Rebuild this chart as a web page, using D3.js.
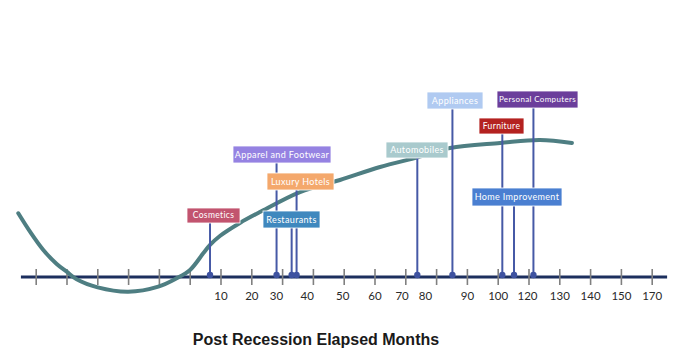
<!DOCTYPE html>
<html>
<head>
<meta charset="utf-8">
<script src="https://cdn.jsdelivr.net/npm/d3@7"></script>
<style>
  body { margin: 0; background: #fff; }
  .tick text { font-family: Lato, "Open Sans", sans-serif; }
</style>
</head>
<body>
<div class="chart"></div>
<script>
var svgWidth = 694;
var svgHeight = 364;

// positions along the axis are in tick steps (0 = first tick, 20 = last)
var tickSteps = d3.range(0, 21);
var tickLabels = ["10", "20", "30", "40", "50", "60", "70", "80", "90", "100", "120", "130", "140", "150", "170"];
var tickLabelSteps = [6, 7, 7.8, 8.8, 9.95, 11, 11.88, 12.64, 14, 15, 15.95, 17, 18, 19, 20];

// business cycle curve
var curveSteps = [-0.565, -0.185, 0.247, 0.682, 1.006, 1.331, 2.013, 3.006, 3.981, 4.578, 5.01, 5.44, 5.66, 5.98, 6.63, 7.28, 8.58, 9.88, 11.18, 12.43, 13.45, 15.08, 16.37, 17.41];
var curveValues = [45.5, 32.4, 19.3, 9.3, 3.8, -1.6, -7.4, -10.5, -6.9, -0.9, 5.0, 16.9, 22.9, 29.3, 38.6, 46.4, 60.7, 69.3, 78.6, 85.7, 92.1, 95.7, 97.9, 95.7];

// industries and where they sit on the axis
var industries = ["Cosmetics", "Apparel and Footwear", "Restaurants", "Luxury Hotels", "Automobiles", "Appliances", "Furniture", "Home Improvement", "Personal Computers"];
var industrySteps = [5.66, 7.82, 8.31, 8.47, 12.39, 13.53, 15.15, 15.53, 16.16];

// label boxes (layout only)
var boxes = {
  "Cosmetics":            { x: 187, y: 208, w: 53, h: 15, fill: "#c2546f", fs: 8.5 },
  "Apparel and Footwear": { x: 233, y: 146, w: 98, h: 17, fill: "#9582e2", fs: 9 },
  "Luxury Hotels":        { x: 267, y: 173, w: 67, h: 17, fill: "#f4a86c", fs: 9 },
  "Restaurants":          { x: 263, y: 211, w: 57, h: 17, fill: "#3f88be", fs: 9 },
  "Automobiles":          { x: 386, y: 142, w: 62, h: 16, fill: "#a9cacd", fs: 9 },
  "Appliances":           { x: 427, y: 92,  w: 56, h: 17, fill: "#b0caf1", fs: 9 },
  "Furniture":            { x: 479, y: 118, w: 45, h: 16, fill: "#b42220", fs: 8.5 },
  "Home Improvement":     { x: 472, y: 188, w: 90, h: 18, fill: "#4a7fd1", fs: 9 },
  "Personal Computers":   { x: 497, y: 91,  w: 81, h: 17, fill: "#6b3e9b", fs: 8 }
};

var axisY = 277;

var svg = d3.select(".chart")
  .append("svg")
  .attr("width", svgWidth)
  .attr("height", svgHeight);

var xScale = d3.scaleLinear().domain([0, 20]).range([35.7, 651.7]);
var yScale = d3.scaleLinear().domain([0, 100]).range([axisY, 137]);

// axis line
svg.append("line")
  .attr("x1", xScale(-0.48))
  .attr("x2", xScale(20.5))
  .attr("y1", axisY)
  .attr("y2", axisY)
  .attr("stroke", "#1c2f5e")
  .attr("stroke-width", 3);

// tick marks
var tickAxis = d3.axisBottom(xScale)
  .tickValues(tickSteps)
  .tickFormat("")
  .tickSizeOuter(0);

var tg = svg.append("g")
  .attr("transform", "translate(0," + axisY + ")")
  .call(tickAxis);
tg.select(".domain").remove();
tg.selectAll(".tick line")
  .attr("y1", -8)
  .attr("y2", 8)
  .attr("stroke", "#808080")
  .attr("stroke-width", 1.6);

// tick labels
var labelAxis = d3.axisBottom(xScale)
  .tickValues(tickLabelSteps)
  .tickFormat(function(d, i) { return tickLabels[i]; })
  .tickSize(0)
  .tickPadding(15);

var lg = svg.append("g")
  .attr("transform", "translate(0," + axisY + ")")
  .call(labelAxis);
lg.select(".domain").remove();
lg.selectAll(".tick text")
  .attr("font-size", 11.5)
  .attr("fill", "#2a2a2a");

// curve
var curveData = curveSteps.map(function(d, i) { return [d, curveValues[i]]; });
var line = d3.line()
  .x(function(d) { return xScale(d[0]); })
  .y(function(d) { return yScale(d[1]); })
  .curve(d3.curveCatmullRom.alpha(0.5));

svg.append("path")
  .datum(curveData)
  .attr("d", line)
  .attr("fill", "none")
  .attr("stroke", "#4e7e82")
  .attr("stroke-width", 4)
  .attr("stroke-linecap", "round");

// leader lines and dots
var markers = svg.append("g");
industries.forEach(function(name, i) {
  var b = boxes[name];
  markers.append("line")
    .attr("x1", xScale(industrySteps[i]))
    .attr("x2", xScale(industrySteps[i]))
    .attr("y1", b.y + b.h / 2)
    .attr("y2", axisY - 2)
    .attr("stroke", "#4659a6")
    .attr("stroke-width", 2);
  markers.append("circle")
    .attr("cx", xScale(industrySteps[i]))
    .attr("cy", axisY - 2)
    .attr("r", 3.2)
    .attr("fill", "#3e52a0");
});

// label boxes
var labels = svg.append("g");
industries.forEach(function(name) {
  var b = boxes[name];
  labels.append("rect")
    .attr("x", b.x)
    .attr("y", b.y)
    .attr("width", b.w)
    .attr("height", b.h)
    .attr("fill", b.fill)
    .attr("stroke", "#fff")
    .attr("stroke-width", 0.8);
  labels.append("text")
    .attr("x", b.x + b.w / 2)
    .attr("y", b.y + b.h / 2)
    .attr("dy", "0.35em")
    .attr("text-anchor", "middle")
    .attr("font-family", "Lato, 'Open Sans', sans-serif")
    .attr("font-size", b.fs)
    .attr("letter-spacing", 0.35)
    .attr("fill", "#fff")
    .text(name);
});

// axis title
svg.append("text")
  .attr("x", 316)
  .attr("y", 345)
  .attr("text-anchor", "middle")
  .attr("font-family", "'Liberation Sans', Arial, sans-serif")
  .attr("font-weight", "bold")
  .attr("font-size", 16)
  .attr("fill", "#1a1a1a")
  .text("Post Recession Elapsed Months");
</script>
</body>
</html>
